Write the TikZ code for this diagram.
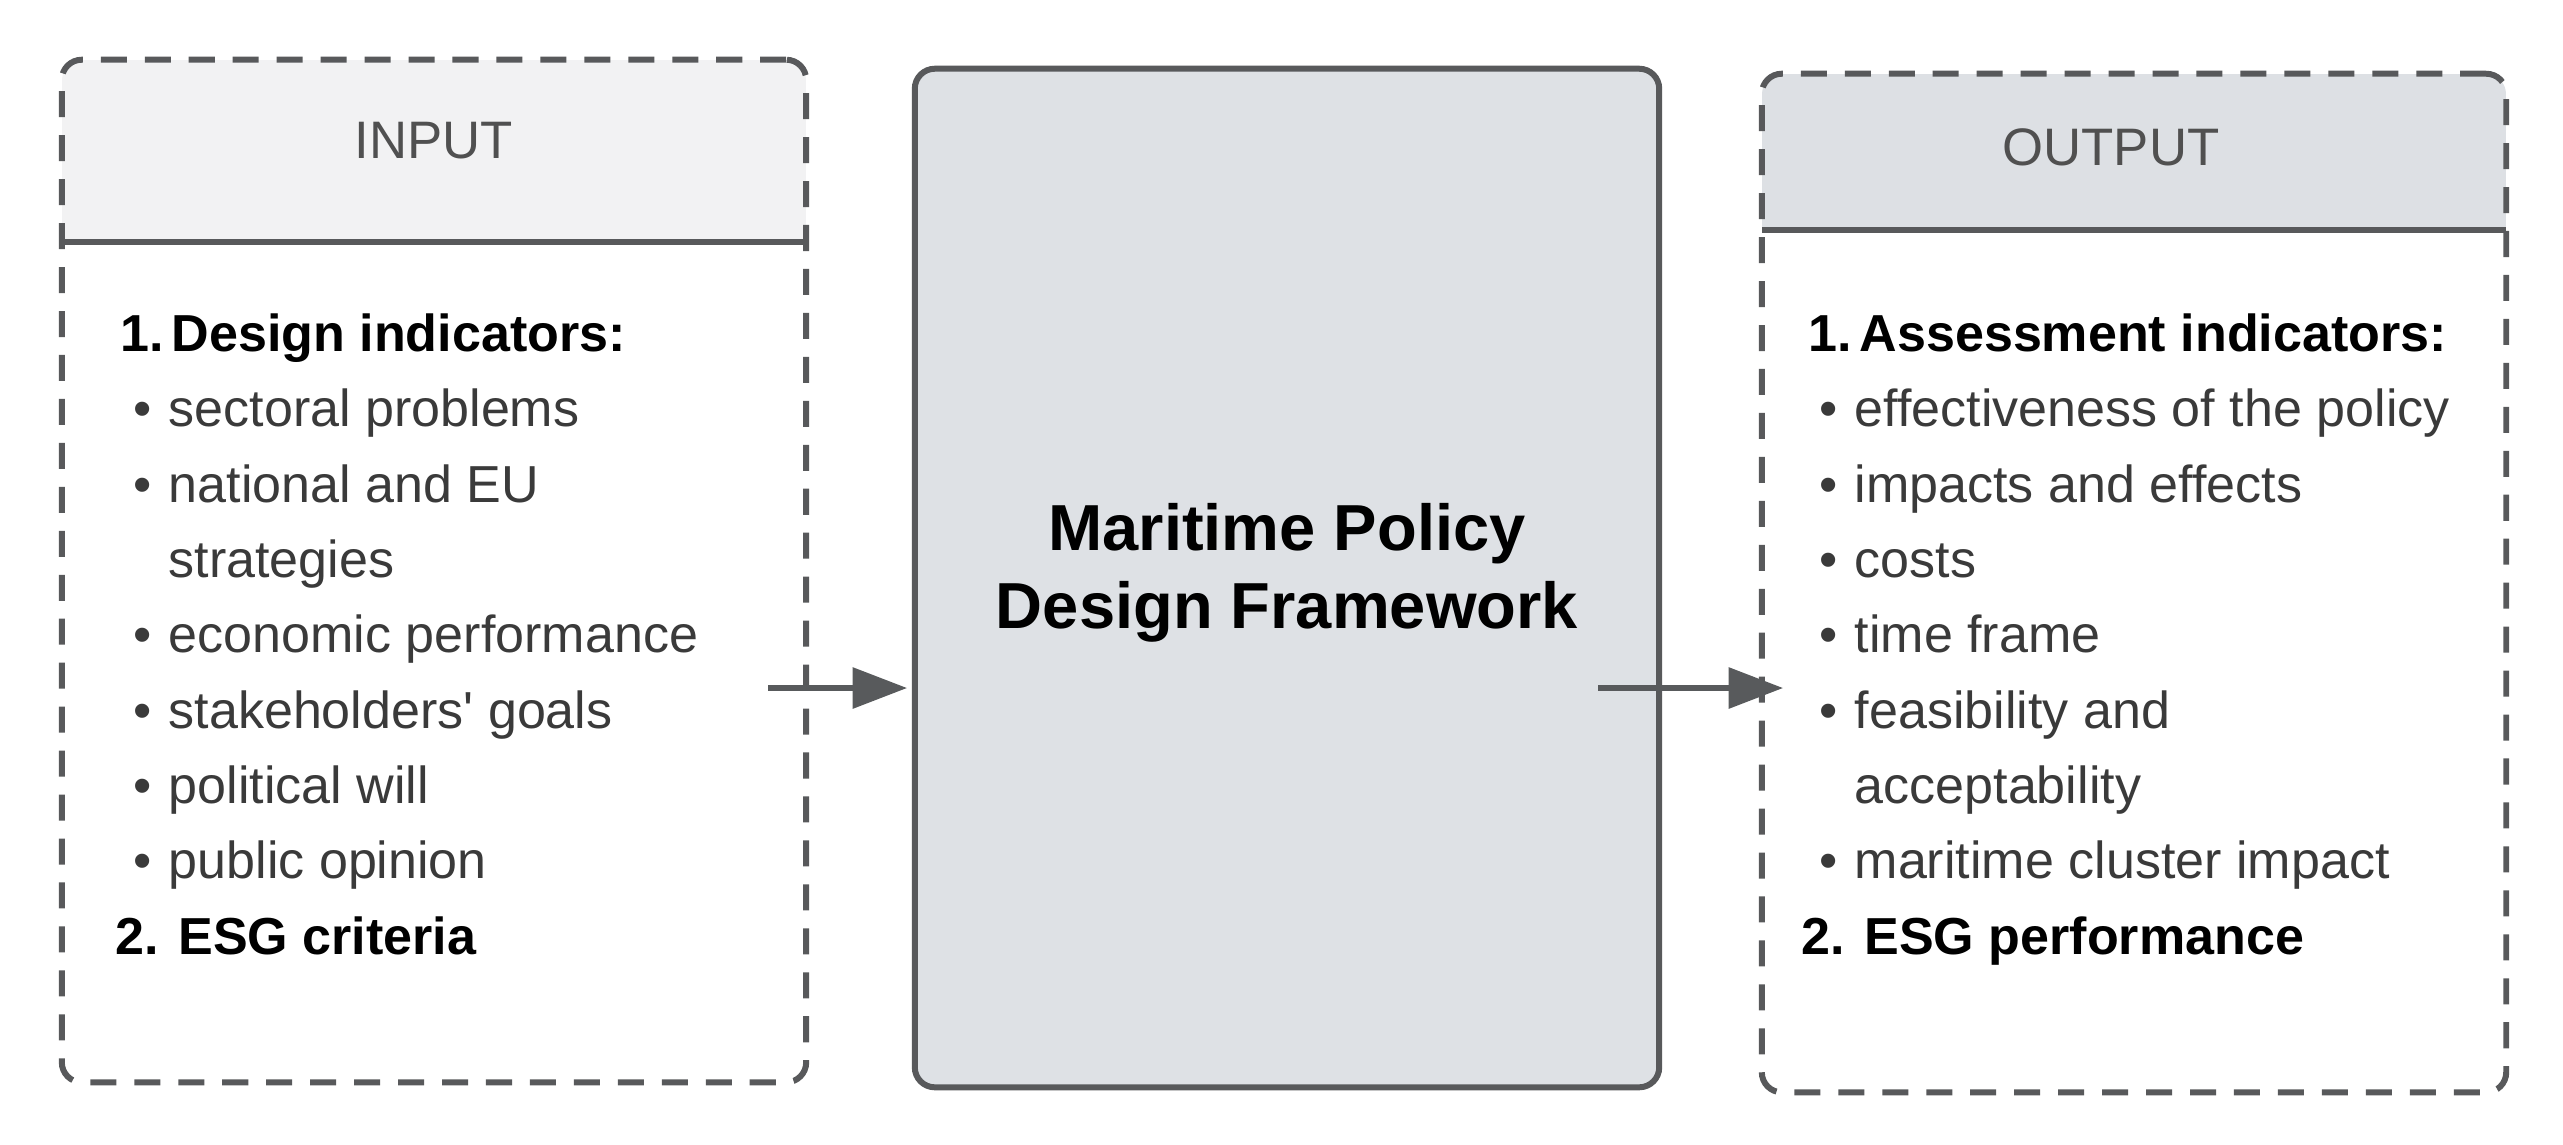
\documentclass[tikz,border=0pt]{standalone}
\usepackage{fontspec}
\setmainfont{Liberation Sans}
\newfontfamily\plainf{Liberation Sans}
\usetikzlibrary{arrows.meta}
\definecolor{edge}{HTML}{58595B}
\definecolor{hdrL}{HTML}{F2F2F3}
\definecolor{hdrR}{HTML}{DDE0E4}
\definecolor{midfill}{HTML}{DEE1E5}
\definecolor{itemc}{HTML}{3A3A3A}
\definecolor{hdrtxt}{HTML}{505050}
\definecolor{arrc}{HTML}{585A5C}
\begin{document}
\begin{tikzpicture}[x=0.01cm,y=-0.01cm,
  dashbox/.style={draw=edge, line width=1.7pt, dash pattern=on 7.4pt off 5.1pt,
    rounded corners=0.2cm, minimum width=7.44cm, minimum height=10.2cm,
    inner sep=0pt, outer sep=0pt},
  midbox/.style={draw=edge, fill=midfill, line width=1.7pt, rounded corners=0.2cm,
    minimum width=7.44cm, minimum height=10.18cm, inner sep=0pt, outer sep=0pt},
  hdrline/.style={draw=edge, line width=1.8pt},
  hdrlabel/.style={anchor=base, text=hdrtxt, font=\fontsize{15pt}{18pt}\selectfont, inner sep=0pt},
  item/.style={anchor=base west, text=itemc, font=\fontsize{14.8pt}{18pt}\selectfont, inner sep=0pt},
  head/.style={anchor=base west, text=black, font=\fontsize{14.8pt}{18pt}\selectfont\bfseries, inner sep=0pt},
  midlabel/.style={align=center, text=black, font=\fontsize{18.5pt}{22.2pt}\selectfont\bfseries, inner sep=0pt},
  arr/.style={draw=arrc, line width=1.45pt, -{Triangle[length=15.5pt,width=11.5pt]}}
]
\useasboundingbox (0,0) rectangle (2563,1144);
\newcommand{\bul}{\llap{\textbullet\hspace{0.17cm}}}

% header fills
\begin{scope}
  \clip[rounded corners=0.2cm] (62,60) rectangle (806,1082);
  \fill[hdrL] (62,60) rectangle (806,242);
\end{scope}
\begin{scope}
  \clip[rounded corners=0.2cm] (1762,74) rectangle (2506,1092);
  \fill[hdrR] (1762,74) rectangle (2506,230);
\end{scope}

% boxes
\node[dashbox, minimum height=10.22cm] (inbox) at (434,571) {};
\node[midbox] (mid) at (1287,578) {};
\node[dashbox, minimum height=10.18cm] (outbox) at (2134,583) {};

\draw[hdrline] (62,242) -- (806,242);
\draw[hdrline] (1762,230) -- (2506,230);

% headers
\node[hdrlabel] (inlabel) at (434,158) {INPUT};
\node[hdrlabel] (outlabel) at (2111,165) {OUTPUT};

% middle text
\node[midlabel] (midtext) at (1287,573) {Maritime Policy\\Design Framework};

% input list
\node[head] (i1) at (171,351) {\llap{1.\hspace{0.08cm}}Design indicators:};
\node[item] (i2) at (168,426) {\bul sectoral problems};
\node[item] (i3) at (168,502) {\bul national and EU};
\node[item] (i4) at (168,577) {strategies};
\node[item] (i5) at (168,652) {\bul economic performance};
\node[item] (i6) at (168,728) {\bul stakeholders{\plainf '} goals};
\node[item] (i7) at (168,803) {\bul political will};
\node[item] (i8) at (168,878) {\bul public opinion};
\node[head] (i9) at (115,954) {2. ESG criteria};

% output list
\node[head] (o1) at (1859,351) {\llap{1.\hspace{0.08cm}}Assessment indicators:};
\node[item] (o2) at (1854,426) {\bul effectiveness of the policy};
\node[item] (o3) at (1854,502) {\bul impacts and effects};
\node[item] (o4) at (1854,577) {\bul costs};
\node[item] (o5) at (1854,652) {\bul time frame};
\node[item] (o6) at (1854,728) {\bul feasibility and};
\node[item] (o7) at (1854,803) {acceptability};
\node[item] (o8) at (1854,878) {\bul maritime cluster impact};
\node[head] (o9) at (1801,954) {2. ESG performance};

% arrows
\coordinate (a1s) at (768,688);
\coordinate (a1e) at (907,688);
\coordinate (a2s) at (1598,688);
\coordinate (a2e) at (1783,688);
\draw[arr] (a1s) -- (a1e);
\draw[arr] (a2s) -- (a2e);
\end{tikzpicture}
\end{document}
